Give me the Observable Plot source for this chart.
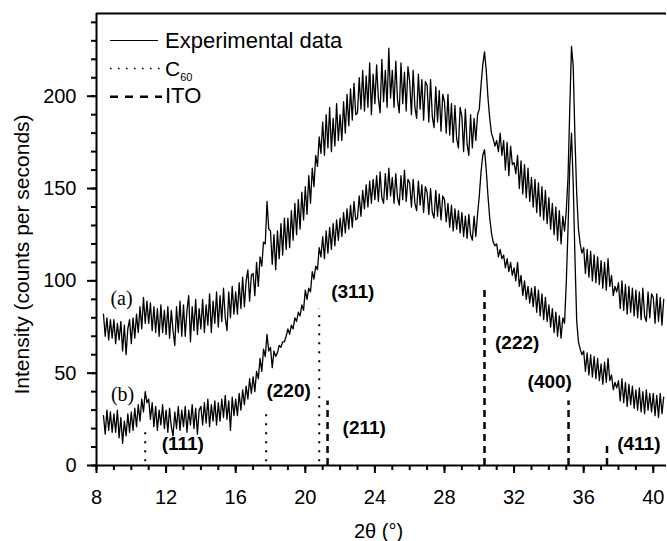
<!DOCTYPE html>
<html><head><meta charset="utf-8">
<script src="https://cdn.jsdelivr.net/npm/d3@7"></script>
<script src="https://cdn.jsdelivr.net/npm/@observablehq/plot@0.6"></script>
<style>
body{margin:0;background:#fff;}
#wrap{position:relative;width:667px;height:541px;font-family:"Liberation Sans",Arial,sans-serif;}
#legend{position:absolute;left:0;top:0;pointer-events:none;}
</style></head><body><div id="wrap"></div>
<script>
const thetaStart = 8.4, thetaStep = 0.1;
// trace (a)
const curveA = [
82,70,80,68,79,69,
79,66,77,68,78,62,76,60,74,79,
66,80,69,82,72,86,74,91,77,89,
77,88,73,86,72,85,70,87,72,84,
71,86,69,84,73,65,86,72,89,70,
87,70,84,92,67,86,73,90,71,85,
74,90,72,87,76,93,72,89,77,94,
75,92,78,96,80,73,94,80,97,82,
94,82,99,85,102,86,100,106,89,103,
104,92,110,97,113,108,121,120,143,128,
127,109,125,106,127,112,131,114,134,117,
134,118,138,122,142,125,144,128,148,133,
151,136,157,142,161,151,168,162,178,169,
186,168,190,172,194,170,188,173,196,176,
190,176,197,180,201,184,204,187,207,190,
191,210,193,214,192,211,194,218,190,212,
196,217,199,191,220,197,214,194,226,199,
214,194,219,198,191,218,196,213,192,216,
208,190,214,194,188,212,193,209,187,208,
206,186,209,189,183,205,186,203,181,201,
197,180,201,179,196,175,195,177,172,194,
189,170,193,174,168,190,172,188,176,190,
193,206,217,224,214,199,188,180,177,173,
176,170,180,168,176,160,175,157,173,163,
164,158,168,150,165,147,163,145,161,143,
156,140,155,137,153,135,151,133,149,131,
145,128,142,125,140,122,138,120,135,127,
138,156,193,227,216,177,147,128,120,115,
118,104,117,102,116,100,114,99,113,98,
111,96,110,95,112,97,103,92,97,94,
99,85,100,84,98,82,97,83,96,81,
95,80,94,79,96,81,78,94,80,93,
91,77,93,78,91,76,90
];
// trace (b)
const curveB = [
27,17,30,19,29,18,
28,18,30,15,26,12,24,16,28,18,
29,19,31,21,33,24,36,29,40,34,
36,25,34,21,32,19,30,22,33,20,
30,18,31,21,16,29,20,32,19,30,
21,32,18,30,22,33,20,31,17,30,
32,22,34,23,36,21,33,24,35,22,
34,24,36,26,38,25,35,19,37,27,
36,27,39,30,41,33,43,36,47,39,
48,40,51,47,58,51,63,59,71,62,
64,53,62,59,61,65,64,67,67,70,
74,71,76,74,80,78,83,81,87,84,
95,90,96,94,105,101,108,106,118,113,
124,112,127,115,129,117,131,119,133,122,
134,124,137,126,139,128,141,129,143,133,
134,146,135,149,139,152,140,154,142,155,
144,157,143,159,145,142,158,144,161,146,
156,142,158,145,141,157,144,160,143,155,
153,140,155,142,138,154,141,152,137,151,
148,136,150,137,134,149,135,147,133,146,
144,132,142,129,141,127,139,128,138,126,
137,124,135,123,136,125,122,135,124,136,
146,159,168,171,160,146,134,126,121,119,
120,113,117,112,114,107,112,105,110,103,
107,100,110,97,103,92,100,90,97,88,
96,86,97,83,95,81,93,79,91,78,
87,75,85,72,83,70,81,69,80,77,
99,128,162,180,152,112,78,67,63,60,
62,51,61,49,60,48,59,47,58,46,
55,44,56,45,58,46,49,41,45,42,
46,35,47,34,45,32,44,33,43,31,
41,30,42,29,40,28,41,30,39,29,
39,27,38,26,39,28,37
];
// reference reflections
const c60Positions = [10.8, 17.75, 20.8];
const c60Heights = [20, 30.5, 85];
const itoPositions = [21.28, 30.3, 35.13, 37.34];
const itoHeights = [35, 97, 35, 12];
// reflection labels (anchor in data units)
const hklText = ["(111)", "(220)", "(311)", "(211)", "(222)", "(400)", "(411)"];
const hklX = [12.96, 19.04, 22.73, 23.39, 32.18, 34.05, 39.17];
const hklY = [11.8, 40.5, 94.1, 20.6, 66.2, 45.5, 11.6];
// trace names
const traceText = ["(a)", "(b)"];
const traceX = [9.44, 9.5];
const traceY = [90.3, 38.3];
// axes
const xDomain = [8, 40.76];
const yDomain = [0, 244.8];
const xMajorTicks = [8, 12, 16, 20, 24, 28, 32, 36, 40];
const xMinorTicks = d3.range(8, 41, 1);
const yMajorTicks = [0, 50, 100, 150, 200];
const yMinorTicks = d3.range(0, 241, 10);
const xTitle = "2θ (°)";
const yTitle = "Intensity (counts per seconds)";

const rowsA = curveA.map((v, i) => ({t: thetaStart + i * thetaStep, v}));
const rowsB = curveB.map((v, i) => ({t: thetaStart + i * thetaStep, v}));
const c60 = c60Positions.map((t, i) => ({t, h: c60Heights[i]}));
const ito = itoPositions.map((t, i) => ({t, h: itoHeights[i]}));
const hkl = hklText.map((s, i) => ({s, x: hklX[i], y: hklY[i]}));
const traces = traceText.map((s, i) => ({s, x: traceX[i], y: traceY[i]}));

const chart = Plot.plot({
  width: 667, height: 541,
  marginLeft: 96, marginRight: 1, marginTop: 13, marginBottom: 76,
  x: {domain: xDomain},
  y: {domain: yDomain},
  style: {fontFamily: "Liberation Sans, Arial, sans-serif", background: "white", color: "black", overflow: "visible"},
  marks: [
    Plot.axisX({ticks: xMinorTicks, tickSize: 5, strokeWidth: 2, tickFormat: () => "", label: null}),
    Plot.axisX({ticks: xMajorTicks, tickSize: 8, strokeWidth: 2, tickPadding: 16, fontSize: 20, label: null}),
    Plot.axisY({ticks: yMinorTicks, tickSize: 5, strokeWidth: 2, tickFormat: () => "", label: null}),
    Plot.axisY({ticks: yMajorTicks, tickSize: 9, strokeWidth: 2, tickPadding: 11, fontSize: 20, label: null}),
    Plot.ruleX(c60, {x: "t", y1: 2, y2: "h", stroke: "black", strokeWidth: 2, strokeDasharray: "2,7"}),
    Plot.ruleX(ito, {x: "t", y1: 0, y2: "h", stroke: "black", strokeWidth: 2.5, strokeDasharray: "7,5"}),
    Plot.line(rowsA, {x: "t", y: "v", stroke: "black", strokeWidth: 1.3}),
    Plot.line(rowsB, {x: "t", y: "v", stroke: "black", strokeWidth: 1.3}),
    Plot.text(hkl, {x: "x", y: "y", text: "s", fontWeight: "bold", fontSize: 19, fill: "black"}),
    Plot.text(traces, {x: "x", y: "y", text: "s", fontFamily: "Liberation Serif, Times New Roman, serif", fontSize: 20, fill: "black"}),
    Plot.ruleY([yDomain[1]], {stroke: "black", strokeWidth: 2}),
    Plot.ruleY([0], {stroke: "black", strokeWidth: 2}),
    Plot.ruleX([xDomain[0]], {stroke: "black", strokeWidth: 2}),
    Plot.text([yTitle], {frameAnchor: "left", textAnchor: "middle", lineAnchor: "middle", dx: -74, dy: 15, rotate: -90, fontSize: 21, fill: "black"}),
    Plot.text([xTitle], {frameAnchor: "bottom", textAnchor: "middle", lineAnchor: "middle", dx: -3, dy: 66, fontSize: 20, fill: "black"})
  ]
});
const wrap = document.getElementById("wrap");
wrap.appendChild(chart);

// legend overlay
const ns = "http://www.w3.org/2000/svg";
const leg = document.createElementNS(ns, "svg");
leg.setAttribute("id", "legend");
leg.setAttribute("width", 667);
leg.setAttribute("height", 541);
leg.innerHTML = `
<g font-family="Liberation Sans, Arial, sans-serif" fill="black">
<line x1="110" x2="158" y1="40.5" y2="40.5" stroke="black" stroke-width="1.2"/>
<text x="165" y="47.5" font-size="22">Experimental data</text>
<line x1="110" x2="160" y1="68.5" y2="68.5" stroke="black" stroke-width="1.6" stroke-dasharray="1.6,6.4"/>
<text x="165" y="76" font-size="21">C<tspan font-size="11" dy="5">60</tspan></text>
<line x1="110" x2="162" y1="96.7" y2="96.7" stroke="black" stroke-width="2.5" stroke-dasharray="8,7"/>
<text x="165" y="103" font-size="22">ITO</text>
</g>`;
wrap.appendChild(leg);
</script>
</body></html>
